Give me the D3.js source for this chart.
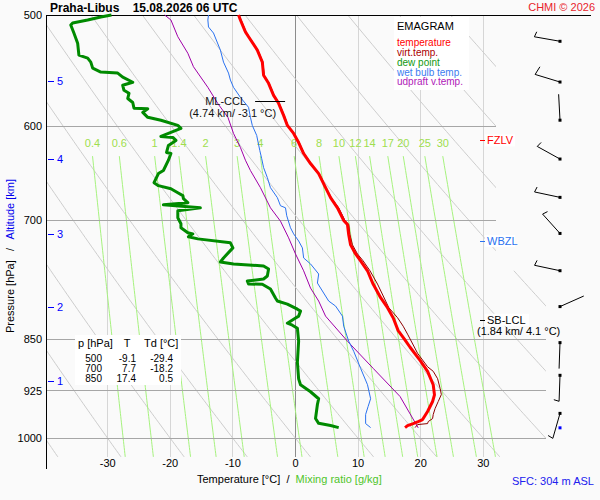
<!DOCTYPE html>
<html><head><meta charset="utf-8">
<script src="https://cdn.jsdelivr.net/npm/d3@7"></script>
<style>
body{margin:0;background:#fafafa}
svg{display:block;font-family:"Liberation Sans",Arial,sans-serif}
</style>
</head><body>
<svg id="c" width="600" height="500"></svg>
<script>
// ---------- DATA ----------
const temperature = [[500,-9.1],[504.1,-8.8],[514,-8.0],[518.1,-7.5],[529.6,-6.1],[540.1,-5.3],[551.8,-5.1],[559.2,-4.3],[570.3,-3.5],[577.8,-2.7],[589.3,-1.9],[599.1,-1.3],[607,-0.3],[616.1,0.5],[627.3,1.3],[637.7,2.4],[648.3,3.7],[663.4,4.8],[674.3,5.6],[685.6,6.7],[699.9,7.7],[704.6,8.3],[716.6,8.5],[728.5,8.8],[739.4,9.6],[747.8,10.4],[760.1,11.5],[776.8,12.4],[794.3,13.6],[807.4,14.7],[820.8,15.6],[838.3,16.4],[850,17.4],[861.5,18.3],[880.3,19.9],[896.1,21.1],[916,22.0],[931.3,22.2],[941.5,21.9],[957.1,21.1],[963.4,20.7],[969.8,20.3],[973,19.6],[976.2,18.8],[979.4,17.9],[982.6,17.5]];
const virtTemp = [[500,-9.0],[514,-7.9],[529.6,-6.0],[540.1,-5.2],[551.8,-5.0],[559.2,-4.2],[570.3,-3.4],[577.8,-2.6],[589.3,-1.8],[599.1,-1.2],[607,-0.2],[616.1,0.6],[627.3,1.4],[637.7,2.5],[648.3,3.8],[663.4,4.9],[674.3,5.7],[685.6,6.9],[699.9,7.9],[704.6,8.5],[716.6,8.7],[728.5,9.1],[739.4,9.9],[747.8,10.8],[760.1,11.9],[776.8,13.1],[798.7,14.4],[807.4,14.9],[820.8,16.3],[832.3,17.2],[843.2,17.9],[870,19.5],[889.5,21.1],[896.1,22.0],[907,22.7],[921.5,23.1],[930.8,23.3],[941.5,22.8],[952.4,22.3],[961.8,22.0],[968.2,21.9],[973,21.2],[976.2,21.1],[977.8,19.5],[982.6,19.1]];
const dewPoint = [[500,-29.4],[501.6,-31.1],[504.1,-33.2],[506.6,-35.6],[508.3,-35.9],[515,-35.4],[523.6,-34.8],[534,-34.6],[536.6,-33.2],[540.1,-32.7],[545.4,-32.4],[549,-31.1],[549.9,-28.4],[553.6,-27.6],[558.2,-26.0],[561,-27.6],[565.6,-27.4],[568.4,-26.6],[573.3,-26.8],[577,-26.0],[582.5,-25.8],[582.9,-23.6],[586.4,-24.4],[591.2,-23.6],[594.1,-21.5],[599.1,-18.8],[602,-18.3],[606,-19.9],[610,-21.5],[611,-19.6],[614,-19.1],[619.1,-20.3],[626.2,-20.6],[627.3,-19.9],[634.2,-20.3],[645,-21.1],[648.2,-21.9],[658,-22.6],[661.2,-21.9],[664.5,-19.9],[668.9,-18.8],[672.1,-18.0],[675.5,-17.9],[679.9,-17.2],[682.2,-21.1],[685.6,-15.2],[689,-18.8],[696.9,-18.8],[703.8,-18.3],[708.4,-18.3],[714.3,-17.2],[715.5,-16.4],[719,-17.1],[721.4,-15.6],[726.1,-10.4],[732.1,-10.0],[744.3,-11.5],[749.2,-12.0],[751.6,-9.9],[754.1,-5.1],[757.9,-4.3],[766.6,-4.5],[770.4,-5.1],[772.9,-7.7],[776.8,-7.5],[777,-5.3],[783.2,-4.0],[794.8,-3.2],[798.7,-2.9],[802.7,-1.3],[809.4,0.3],[812,0.8],[818.7,0.5],[822.8,-0.3],[828.2,-1.3],[830.9,-0.5],[835,0.3],[853,0.5],[882.9,0.3],[907.3,0.5],[916,0.8],[926.6,2.4],[937.3,3.7],[946.1,3.5],[968.1,3.2],[975.8,3.7],[979.3,5.6],[982.6,6.9]];
const wetBulb = [[500,-13.9],[504.1,-14.0],[509.9,-13.9],[515,-13.1],[529.6,-12.0],[540.1,-11.5],[549.9,-10.7],[556.2,-10.4],[562.9,-9.9],[572.2,-8.8],[581.6,-7.5],[591.2,-7.2],[599.1,-6.9],[609,-6.2],[624.3,-5.7],[632.6,-5.4],[641.9,-5.1],[652.5,-4.5],[663.4,-4.0],[674.3,-2.9],[683.3,-2.4],[685.6,-1.6],[694.6,-1.4],[708.4,-0.8],[715.5,-0.3],[723.9,0.5],[732.1,1.1],[744.3,1.3],[751.6,2.4],[764.1,3.7],[775.5,3.5],[798.7,5.3],[805.3,6.4],[818.7,7.5],[832.3,7.7],[853,8.5],[867.2,9.3],[891.7,10.4],[916,11.5],[937.3,12.0],[949.2,11.6],[961.8,11.2],[976.2,11.2],[982.6,12.0]];
const parcel = [[500,-20.9],[504.1,-19.9],[518.1,-18.8],[532.3,-17.2],[544.2,-16.3],[562.9,-14.0],[578.1,-12.4],[591.2,-10.8],[607,-9.9],[621.1,-8.8],[634.2,-8.0],[645,-7.2],[663.4,-5.6],[685.6,-4.0],[700.8,-2.4],[720.2,-1.1],[739.4,0.0],[760.1,1.3],[781.9,2.4],[798.7,3.7],[818.7,4.8],[853,8.3],[891.7,12.4],[933.8,16.7],[983,19.6]];

const pressureTicks = [500,600,700,850,925,1000];
const tempTicks = [-30,-20,-10,0,10,20,30];
const mixingRatios = [0.4,0.6,1,1.4,2,3,4,6,8,10,12,14,17,20,25,30];
const dryAdiabatT1000 = [-40,-30,-20,-10,0,10,20,30,40,50,60,70,80,90,100,110,120];
const heightKm = [1,2,3,4,5];
const heightP = [910,806,716,633,557];

const windP   = [522,558,594,633,674,715,760,806,855,902,960];
const windDir = [280,287,357,299,282,318,282,66,182,182,196];
const windKt  = [5,10,2,3,5,5,5,2,2,5,5];
const surfaceP = 983;

const levelNames = ["FZLV","WBZL","SB-LCL"];
const levelP = [614,724,823.6];
const lclText = "(1.84 km/ 4.1 °C)";
const cclP = 575.8, cclT = -3.1, cclText = "(4.74 km/ -3.1 °C)";

const tableP = [500,700,850];
const tableT = [-9.1,7.7,17.4];
const tableTd = [-29.4,-18.2,0.5];

const legendNames = ["temperature","virt.temp.","dew point","wet bulb temp.","udpraft v.temp."];

// ---------- LAYOUT ----------
const svg = d3.select("#c");
const x = d3.scaleLinear().domain([-30,30]).range([107.7,483.3]);
const y = d3.scaleLog().domain([500,1000]).range([15,438.3]);
const L=46, TOP=15, BOT=457, R1=496, R2=546, PBREAK=760;

svg.append("rect").attr("width",600).attr("height",500).attr("fill","#fafafa");

const defs = svg.append("defs");
defs.append("clipPath").attr("id","clip").append("polygon")
  .attr("points",[[L,TOP],[R1,TOP],[R1,y(PBREAK)],[R2,y(PBREAK)],[R2,BOT],[L,BOT]].map(d=>d.join(",")).join(" "));

const grid = svg.append("g").attr("clip-path","url(#clip)");

// vertical isotherms
grid.selectAll(".vt").data(tempTicks).join("line")
  .attr("x1",d=>x(d)).attr("x2",d=>x(d)).attr("y1",TOP).attr("y2",BOT)
  .attr("stroke",d=>d===0?"#8c8c8c":"#d6d6d6").attr("stroke-width",1).attr("shape-rendering","crispEdges");

// dry adiabats
const pRange = d3.range(495,1050,5);
const lineTP = d3.line().x(d=>x(d[1])).y(d=>y(d[0]));
grid.selectAll(".da").data(dryAdiabatT1000).join("path")
  .attr("d",t=>lineTP(pRange.map(p=>[p,(t+273.15)*Math.pow(p/1000,0.2857)-273.15])))
  .attr("fill","none").attr("stroke","#cdcdcd").attr("stroke-width",1);

// mixing ratio lines
function tdFromW(w,p){const e=w*p/(622+w);const a=Math.log(e/6.112);return 243.5*a/(17.67-a);}
const pMix = d3.range(630,1036,5);
grid.selectAll(".mr").data(mixingRatios).join("path")
  .attr("d",w=>lineTP(pMix.map(p=>[p,tdFromW(w,p)])))
  .attr("fill","none").attr("stroke","#a6f27e").attr("stroke-width",1);

// isobars
grid.selectAll(".hp").data(pressureTicks.slice(1)).join("line")
  .attr("x1",L).attr("x2",R2).attr("y1",d=>y(d)).attr("y2",d=>y(d))
  .attr("stroke","#a6a6a6").attr("stroke-width",1).attr("shape-rendering","crispEdges");

// mixing ratio labels
svg.selectAll(".mrl").data(mixingRatios).join("text")
  .attr("x",w=>x(tdFromW(w,630))).attr("y",y(617)+4)
  .attr("text-anchor","middle").attr("font-size",11).attr("fill","#9ede4e").text(d=>d);

// top border & left axis
svg.append("line").attr("x1",L).attr("x2",591).attr("y1",TOP+0.5).attr("y2",TOP+0.5).attr("stroke","#000");
svg.append("line").attr("x1",L+0.5).attr("x2",L+0.5).attr("y1",TOP).attr("y2",469).attr("stroke","#000");

// pressure labels
svg.selectAll(".pl").data(pressureTicks).join("text")
  .attr("x",42).attr("y",d=>y(d)+4).attr("text-anchor","end").attr("font-size",11).attr("fill","#000").text(d=>d);

// temperature labels
svg.selectAll(".tl").data(tempTicks).join("text")
  .attr("x",d=>x(d)).attr("y",467).attr("text-anchor","middle").attr("font-size",11).attr("fill","#000").text(d=>d);

// heights
const hg = svg.append("g");
hg.selectAll("line").data(heightP).join("line")
  .attr("x1",48).attr("x2",54).attr("y1",d=>Math.round(y(d))+0.5).attr("y2",d=>Math.round(y(d))+0.5).attr("stroke","#0000ff");
hg.selectAll("text").data(heightKm).join("text")
  .attr("x",57).attr("y",(d,i)=>y(heightP[i])+4).attr("font-size",11).attr("fill","#0000ff").text(d=>d);

// ---------- PROFILES ----------
const prof = svg.append("g").attr("fill","none").attr("stroke-linejoin","round");
prof.append("path").attr("d",lineTP(parcel)).attr("stroke","#a000a8").attr("stroke-width",1);
prof.append("path").attr("d",lineTP(wetBulb)).attr("stroke","#2a72f0").attr("stroke-width",1);
prof.append("path").attr("d",lineTP(dewPoint)).attr("stroke","#008a00").attr("stroke-width",3);
prof.append("path").attr("d",lineTP(virtTemp)).attr("stroke","#8f0000").attr("stroke-width",1);
prof.append("path").attr("d",lineTP(temperature)).attr("stroke","#ff0000").attr("stroke-width",3);

// ML-CCL
svg.append("line").attr("x1",x(cclT)-21).attr("x2",x(cclT)+9).attr("y1",Math.round(y(cclP))+0.5).attr("y2",Math.round(y(cclP))+0.5).attr("stroke","#000");
svg.append("text").attr("x",x(cclT)-30).attr("y",y(cclP)+4).attr("text-anchor","end").attr("font-size",11).attr("fill","#111").text("ML-CCL");
svg.append("text").attr("x",x(cclT)).attr("y",y(cclP)+16).attr("text-anchor","end").attr("font-size",11).attr("fill","#111").text(cclText);

// level labels
const lvColors = ["#ff0000","#2a72f0","#000"];
levelNames.forEach((n,i)=>{
  const yy = y(levelP[i]);
  svg.append("rect").attr("x",485).attr("y",yy-6).attr("width",n.length*7+2).attr("height",12).attr("fill","#fff");
  svg.append("line").attr("x1",480).attr("x2",485).attr("y1",Math.round(yy)+0.5).attr("y2",Math.round(yy)+0.5).attr("stroke",lvColors[i]);
  svg.append("text").attr("x",487).attr("y",yy+4).attr("font-size",11).attr("fill",lvColors[i]).text(n);
});
svg.append("text").attr("x",477).attr("y",y(levelP[2])+15).attr("font-size",11).attr("fill","#000").text(lclText);

// ---------- WIND BARBS ----------
const wg = svg.append("g").attr("stroke","#000").attr("stroke-width",1).attr("fill","none");
const WX = 560, STAFF = 26, tilt = 15*Math.PI/180;
windP.forEach((p,i)=>{
  const a = windDir[i]*Math.PI/180;
  const ux = Math.sin(a), uy = -Math.cos(a);
  const cy = y(p);
  const ex = WX+ux*STAFF, ey = cy+uy*STAFF;
  wg.append("line").attr("x1",WX).attr("y1",cy).attr("x2",ex).attr("y2",ey);
  const bx = Math.cos(tilt)*(-uy)+Math.sin(tilt)*(-ux);
  const by = Math.cos(tilt)*(ux)+Math.sin(tilt)*(-uy);
  let rem = Math.round(windKt[i]/5)*5, k=0;
  while(rem>=10){
    const sx = ex-ux*k*3, sy = ey-uy*k*3;
    wg.append("line").attr("x1",sx).attr("y1",sy).attr("x2",sx+bx*9).attr("y2",sy+by*9);
    rem-=10; k++;
  }
  if(rem>=5){
    const sx = ex-ux*k*3, sy = ey-uy*k*3;
    wg.append("line").attr("x1",sx).attr("y1",sy).attr("x2",sx+bx*5.5).attr("y2",sy+by*5.5);
  }
  svg.append("rect").attr("x",WX-1.5).attr("y",cy-1.5).attr("width",3).attr("height",3).attr("fill","#000");
});
svg.append("rect").attr("x",WX-1.5).attr("y",y(surfaceP)-1.5).attr("width",3).attr("height",3).attr("fill","#0000ff");

// ---------- LEGEND ----------
const lg = svg.append("g");
lg.append("rect").attr("x",394).attr("y",17).attr("width",75).attr("height",73).attr("fill","#fff");
lg.append("text").attr("x",397).attr("y",30).attr("font-size",11).attr("fill","#000").text("EMAGRAM");
const legColors = ["#ff0000","#aa0000","#119911","#3b7cf0","#b020b8"];
lg.selectAll(".li").data(legendNames).join("text")
  .attr("x",397).attr("y",(d,i)=>45.8+i*9.9).attr("font-size",10).attr("fill",(d,i)=>legColors[i]).text(d=>d);

// ---------- TABLE ----------
const tg = svg.append("g").attr("fill","#000");
tg.append("rect").attr("x",75).attr("y",335).attr("width",106).attr("height",50).attr("fill","#fff");
tg.append("text").attr("x",78).attr("y",347).attr("font-size",11).text("p [hPa]");
tg.append("text").attr("x",127).attr("y",347).attr("font-size",11).attr("text-anchor","middle").text("T");
tg.append("text").attr("x",144).attr("y",347).attr("font-size",11).text("Td [°C]");
tableP.forEach((p,i)=>{
  const yy = 361.5+i*10;
  tg.append("text").attr("x",102).attr("y",yy).attr("font-size",10).attr("text-anchor","end").text(p);
  tg.append("text").attr("x",136).attr("y",yy).attr("font-size",10).attr("text-anchor","end").text(tableT[i].toFixed(1));
  tg.append("text").attr("x",173).attr("y",yy).attr("font-size",10).attr("text-anchor","end").text(tableTd[i].toFixed(1));
});

// ---------- TITLES ----------
svg.append("text").attr("x",50).attr("y",12).attr("font-size",12).attr("font-weight","bold").attr("fill","#000")
  .attr("xml:space","preserve").style("white-space","pre").text("Praha-Libus    15.08.2026 06 UTC");
svg.append("text").attr("x",595).attr("y",11).attr("text-anchor","end").attr("font-size",11).attr("fill","#e8242c").text("CHMI © 2026");

const xl = svg.append("text").attr("x",197).attr("y",483).attr("font-size",11).style("white-space","pre");
xl.append("tspan").attr("fill","#000").text("Temperature [°C]  /  ");
xl.append("tspan").attr("fill","#4fc52a").text("Mixing ratio [g/kg]");
svg.append("text").attr("x",512).attr("y",485).attr("font-size",11).attr("fill","#2020ee").text("SFC: 304 m ASL");

const yl = svg.append("text").attr("transform","translate(14,333) rotate(-90)").attr("font-size",11).style("white-space","pre");
yl.append("tspan").attr("fill","#000").text("Pressure [hPa]   /   ");
yl.append("tspan").attr("fill","#0000ee").text("Altitude [km]");
</script>
</body></html>
